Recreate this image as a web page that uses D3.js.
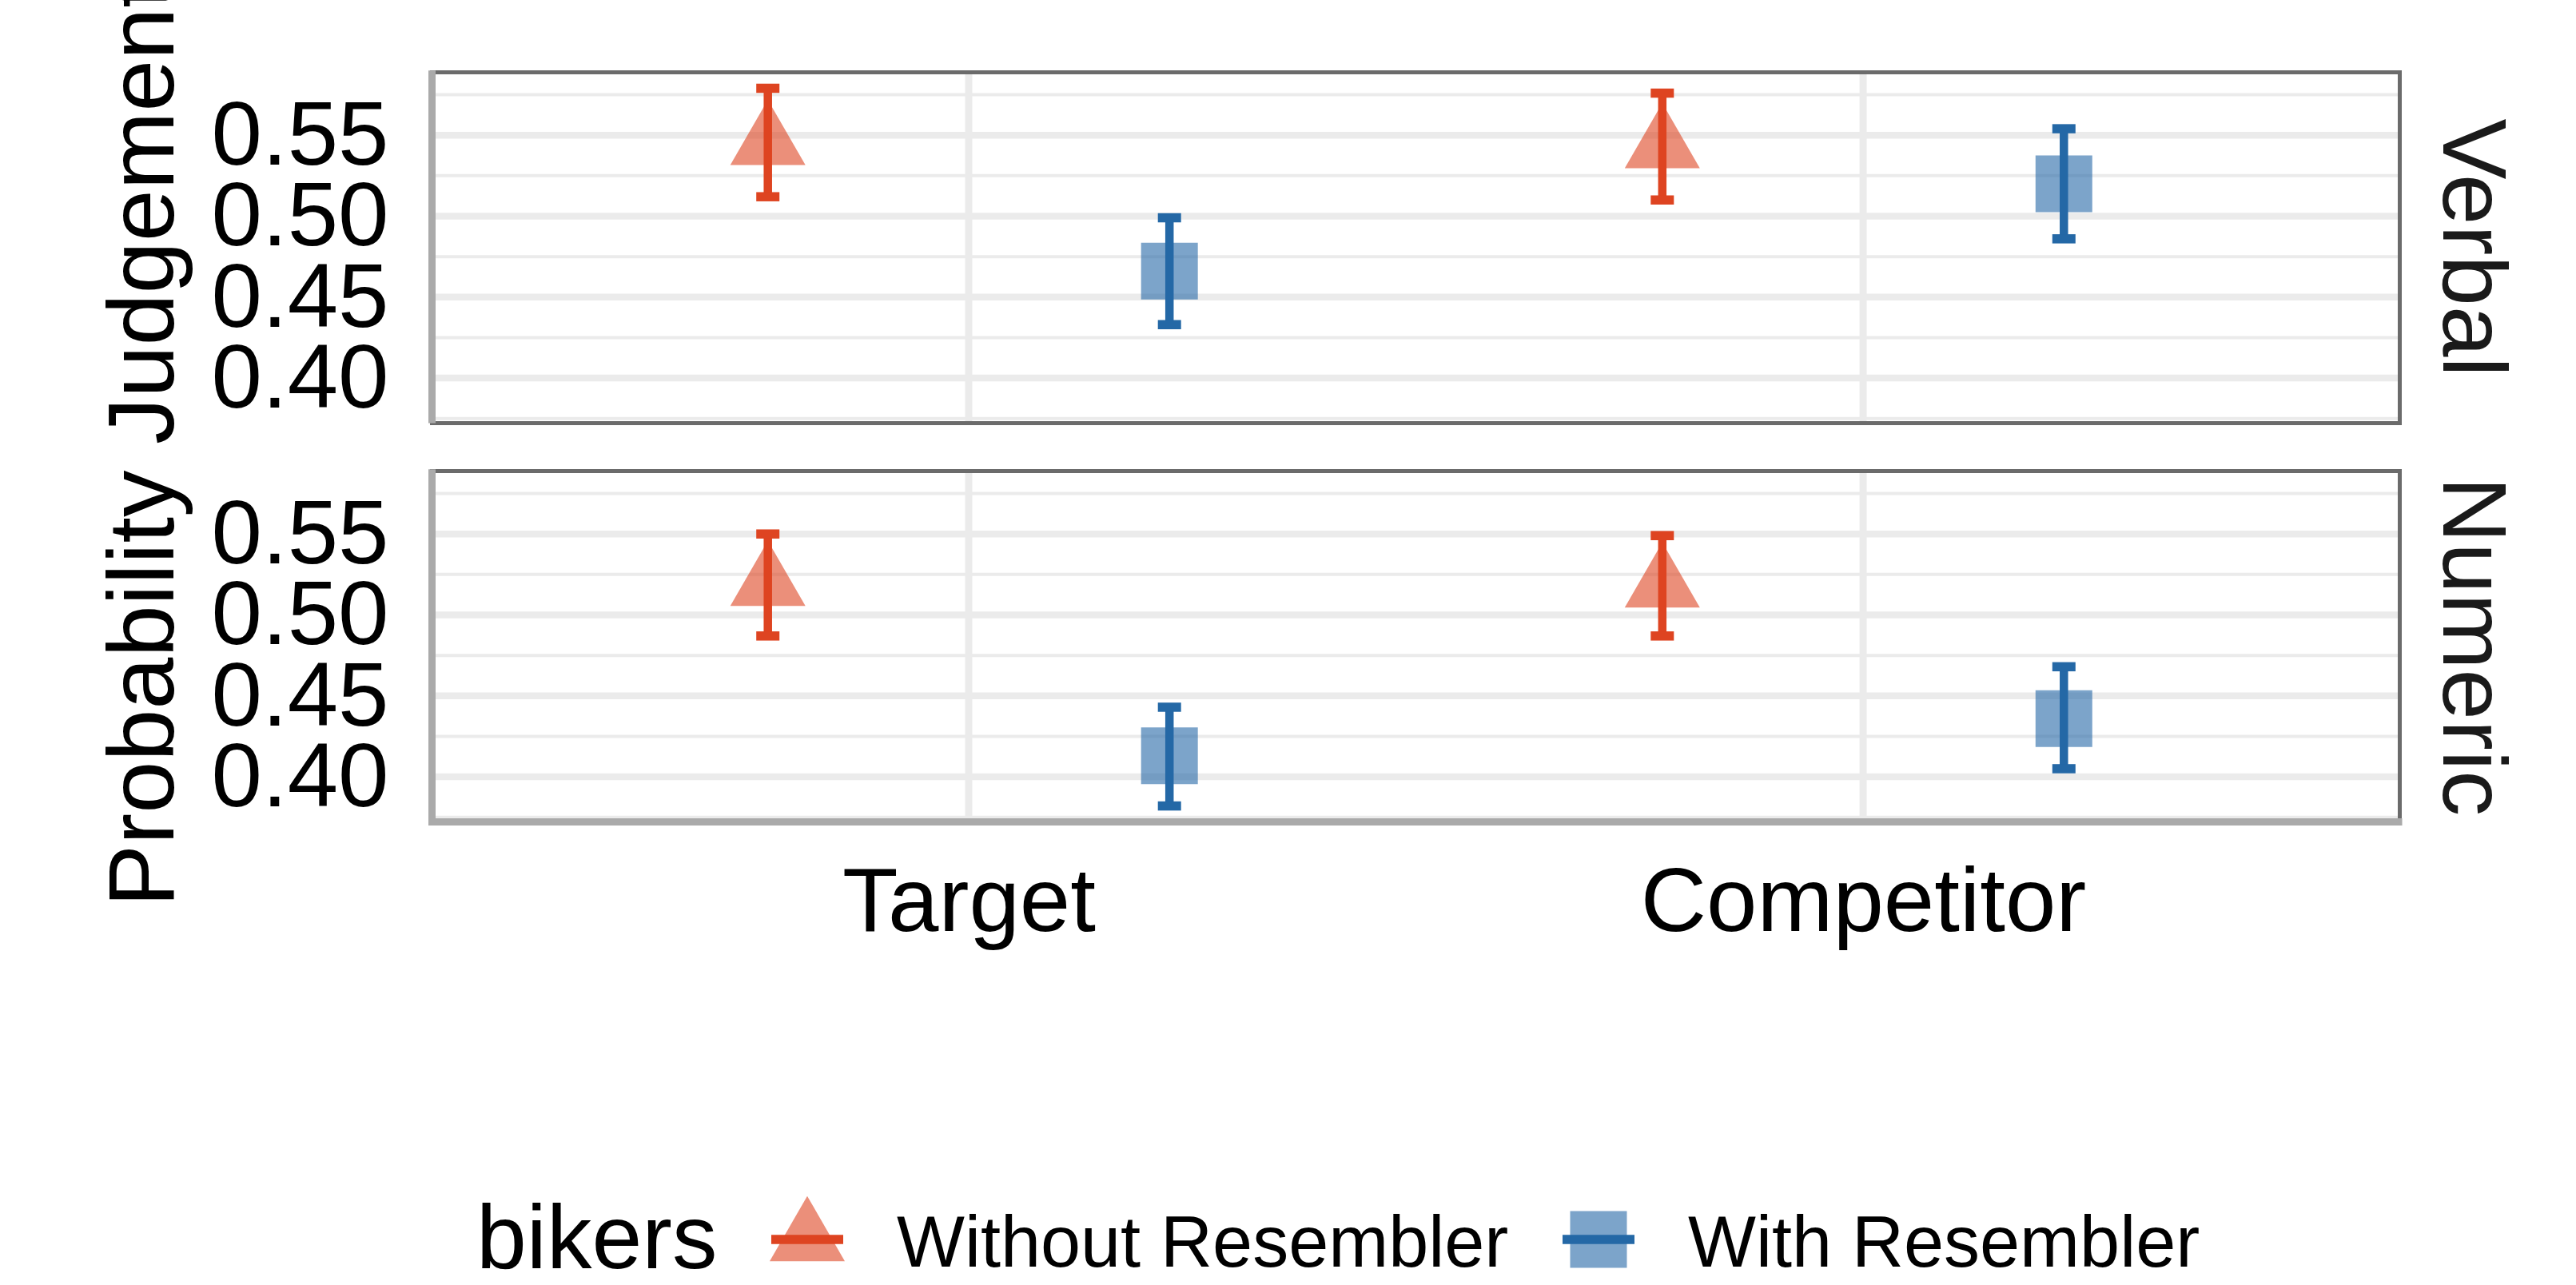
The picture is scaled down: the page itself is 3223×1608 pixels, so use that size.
<!DOCTYPE html>
<html>
<head>
<meta charset="utf-8">
<script src="https://cdn.jsdelivr.net/npm/d3@7"></script>
<style>
  body { margin: 0; background: #fff; }
  svg { display: block; }
  text { font-family: "Liberation Sans", Arial, sans-serif; }
</style>
</head>
<body>
<svg id="chart" width="3223" height="1608"></svg>
<script>
// ---- data ----
const categories = ["Target", "Competitor"];
const groups = ["Without Resembler", "With Resembler"];
const facets = ["Verbal", "Numeric"];
const yTickValues = [0.40, 0.45, 0.50, 0.55];
const yMinorValues = [0.375, 0.425, 0.475, 0.525, 0.575];

// order of entries: Verbal-Target, Verbal-Competitor, Numeric-Target, Numeric-Competitor
const withoutMean = [0.545, 0.543, 0.519, 0.518];
const withoutLow  = [0.512, 0.510, 0.487, 0.487];
const withoutHigh = [0.579, 0.576, 0.550, 0.549];
const withMean    = [0.466, 0.520, 0.413, 0.436];
const withLow     = [0.433, 0.486, 0.382, 0.405];
const withHigh    = [0.499, 0.554, 0.443, 0.468];

const legendTitle = "bikers";
const yTitle = "Probability Judgement";

// ---- styling ----
const colors = { "Without Resembler": "#DE4421", "With Resembler": "#2468A6" };
const symbols = { "Without Resembler": d3.symbolTriangle, "With Resembler": d3.symbolSquare };
const symbolSize = { "Without Resembler": 3826, "With Resembler": 5041 };

// rows for drawing
const rows = [];
facets.forEach((f, fi) => {
  categories.forEach((c, ci) => {
    const k = fi * categories.length + ci;
    rows.push({ facet: f, category: c, group: groups[0], mean: withoutMean[k], low: withoutLow[k], high: withoutHigh[k] });
    rows.push({ facet: f, category: c, group: groups[1], mean: withMean[k], low: withLow[k], high: withHigh[k] });
  });
});

// ---- layout ----
const svg = d3.select("#chart");
const panelLeft = 540.5, panelRight = 3002.5;
const panelTops = [90.5, 589.5];
const panelHeight = 439;

const x = d3.scalePoint().domain(categories).range([panelLeft, panelRight]).padding(0.6);
const step = x.step();
const dodge = d3.scalePoint().domain(groups).range([-0.2245 * step, 0.2245 * step]);

const lo = d3.min(rows, d => d.low), hi = d3.max(rows, d => d.high);
const pad = (hi - lo) * 0.05;
const yDomain = [lo - pad, hi + pad];

facets.forEach((facet, fi) => {
  const top = panelTops[fi], bottom = top + panelHeight;
  const y = d3.scaleLinear().domain(yDomain).range([bottom, top]);
  const g = svg.append("g");

  // grid
  g.append("g").selectAll("line").data(yMinorValues).join("line")
    .attr("x1", panelLeft).attr("x2", panelRight)
    .attr("y1", d => y(d)).attr("y2", d => y(d))
    .attr("stroke", "#EBEBEB").attr("stroke-width", 4);
  g.append("g").selectAll("line").data(yTickValues).join("line")
    .attr("x1", panelLeft).attr("x2", panelRight)
    .attr("y1", d => y(d)).attr("y2", d => y(d))
    .attr("stroke", "#EBEBEB").attr("stroke-width", 8.5);
  g.append("g").selectAll("line").data(categories).join("line")
    .attr("x1", d => x(d)).attr("x2", d => x(d))
    .attr("y1", top).attr("y2", bottom)
    .attr("stroke", "#EBEBEB").attr("stroke-width", 9);

  const data = rows.filter(r => r.facet === facet);

  // points
  g.append("g").selectAll("path").data(data).join("path")
    .attr("d", d => d3.symbol(symbols[d.group], symbolSize[d.group])())
    .attr("transform", d => `translate(${x(d.category) + dodge(d.group)},${y(d.mean)})`)
    .attr("fill", d => colors[d.group]).attr("fill-opacity", 0.6);

  // error bars
  const eb = g.append("g").selectAll("g").data(data).join("g")
    .attr("stroke", d => colors[d.group]).attr("stroke-width", 10.5);
  eb.append("line")
    .attr("x1", d => x(d.category) + dodge(d.group)).attr("x2", d => x(d.category) + dodge(d.group))
    .attr("y1", d => y(d.high)).attr("y2", d => y(d.low));
  eb.append("line")
    .attr("x1", d => x(d.category) + dodge(d.group) - 14.5).attr("x2", d => x(d.category) + dodge(d.group) + 14.5)
    .attr("y1", d => y(d.high)).attr("y2", d => y(d.high)).attr("stroke-width", 11.5);
  eb.append("line")
    .attr("x1", d => x(d.category) + dodge(d.group) - 14.5).attr("x2", d => x(d.category) + dodge(d.group) + 14.5)
    .attr("y1", d => y(d.low)).attr("y2", d => y(d.low)).attr("stroke-width", 11.5);

  // panel border
  g.append("rect")
    .attr("x", panelLeft).attr("y", top)
    .attr("width", panelRight - panelLeft).attr("height", panelHeight)
    .attr("fill", "none").attr("stroke", "#6B6B6B").attr("stroke-width", 5);

  // y axis
  const ya = g.append("g").attr("transform", `translate(${panelLeft},0)`)
    .call(d3.axisLeft(y).tickValues(yTickValues).tickFormat(d3.format(".2f")).tickSize(0).tickSizeOuter(0).tickPadding(54));
  ya.select(".domain").attr("stroke", "#AAAAAA").attr("stroke-width", 9)
    .attr("d", `M0,${top - 2.3}V${bottom}`);
  ya.selectAll("text").attr("font-size", 114).attr("fill", "#000")
    .attr("font-family", "'Liberation Sans', Arial, sans-serif");

  // strip label
  g.append("text")
    .attr("transform", `translate(3057,${(top + bottom) / 2}) rotate(90)`)
    .attr("text-anchor", "middle")
    .attr("font-size", 114).attr("fill", "#1A1A1A")
    .text(facet);

  // x axis on the lowest panel
  if (fi === facets.length - 1) {
    const xa = g.append("g").attr("transform", `translate(0,${bottom})`)
      .call(d3.axisBottom(x).tickSize(0).tickSizeOuter(0).tickPadding(56));
    xa.select(".domain").attr("stroke", "#AAAAAA").attr("stroke-width", 9)
      .attr("d", `M${panelLeft - 4.5},0H${panelRight + 3}`);
    xa.selectAll("text").attr("font-size", 114).attr("fill", "#000")
      .attr("font-family", "'Liberation Sans', Arial, sans-serif");
  }
});

// y axis title
svg.append("text")
  .attr("transform", `translate(217,556) rotate(-90)`)
  .attr("text-anchor", "middle")
  .attr("font-size", 117).attr("fill", "#000")
  .text(yTitle);

// ---- legend ----
const legend = svg.append("g");
const legendY = 1551;
const keyX = d3.scaleOrdinal().domain(groups).range([1010, 2000]);
const labelX = d3.scaleOrdinal().domain(groups).range([1122, 2112]);

legend.append("text")
  .attr("x", 596).attr("y", 1587)
  .attr("font-size", 113).attr("fill", "#000")
  .text(legendTitle);

const keys = legend.selectAll("g.key").data(groups).join("g").attr("class", "key");
keys.append("path")
  .attr("d", d => d3.symbol(symbols[d], symbolSize[d])())
  .attr("transform", d => `translate(${keyX(d)},${legendY})`)
  .attr("fill", d => colors[d]).attr("fill-opacity", 0.6);
keys.append("line")
  .attr("x1", d => keyX(d) - 45).attr("x2", d => keyX(d) + 45)
  .attr("y1", legendY).attr("y2", legendY)
  .attr("stroke", d => colors[d]).attr("stroke-width", 11.5);
keys.append("text")
  .attr("x", d => labelX(d)).attr("y", 1585)
  .attr("font-size", 90).attr("fill", "#000")
  .text(d => d);
</script>
</body>
</html>
